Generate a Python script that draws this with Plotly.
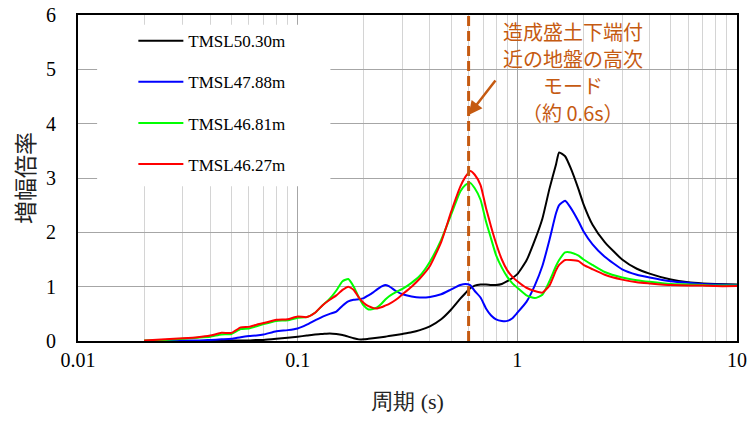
import math
import plotly.graph_objects as go

periods = [0.02, 0.025, 0.03, 0.035, 0.04, 0.045, 0.05, 0.055, 0.06, 0.065, 0.07, 0.08, 0.09,
           0.1, 0.11, 0.12, 0.13, 0.14, 0.15, 0.16, 0.17, 0.18, 0.19, 0.2, 0.21, 0.22, 0.23,
           0.24, 0.25, 0.26, 0.28, 0.3, 0.33, 0.36, 0.4, 0.45, 0.5, 0.55, 0.58, 0.61, 0.64,
           0.68, 0.72, 0.76, 0.8, 0.85, 0.9, 0.95, 1.0, 1.1, 1.2, 1.3, 1.4, 1.5, 1.55, 1.65,
           1.75, 1.9, 2.0, 2.2, 2.5, 3.0, 3.5, 4.0, 5.0, 6.0, 7.0, 8.0, 10.0]

tmsl_5030 = [0.0, 0.0, 0.0, 0.0, 0.0, 0.0, 0.01, 0.01, 0.01, 0.02, 0.02, 0.04, 0.06,
             0.08, 0.1, 0.12, 0.13, 0.14, 0.13, 0.11, 0.08, 0.05, 0.03, 0.03, 0.04, 0.05, 0.06,
             0.07, 0.08, 0.09, 0.11, 0.13, 0.16, 0.2, 0.27, 0.4, 0.58, 0.78, 0.88, 0.97, 1.02,
             1.04, 1.04, 1.03, 1.03, 1.05, 1.1, 1.16, 1.23, 1.48, 1.85, 2.25, 2.8, 3.25, 3.47, 3.4,
             3.18, 2.79, 2.52, 2.14, 1.82, 1.5, 1.33, 1.24, 1.13, 1.08, 1.06, 1.05, 1.04]

tmsl_4788 = [0.0, 0.0, 0.01, 0.01, 0.02, 0.03, 0.04, 0.07, 0.09, 0.1, 0.12, 0.18, 0.2,
             0.23, 0.3, 0.38, 0.45, 0.5, 0.54, 0.65, 0.73, 0.76, 0.77, 0.79, 0.84, 0.89, 0.95,
             1.0, 1.03, 1.01, 0.92, 0.86, 0.82, 0.8, 0.81, 0.86, 0.95, 1.03, 1.05, 1.03, 0.92,
             0.8, 0.6, 0.47, 0.4, 0.37, 0.37, 0.42, 0.52, 0.72, 1.02, 1.38, 1.86, 2.35, 2.5, 2.58,
             2.45, 2.2, 2.02, 1.78, 1.55, 1.32, 1.22, 1.17, 1.1, 1.07, 1.05, 1.04, 1.03]

tmsl_4681 = [0.01, 0.02, 0.04, 0.06, 0.08, 0.12, 0.13, 0.22, 0.23, 0.27, 0.31, 0.37, 0.38,
             0.43, 0.44, 0.52, 0.66, 0.78, 0.93, 1.1, 1.14, 1.0, 0.8, 0.65, 0.58, 0.59, 0.62,
             0.68, 0.76, 0.82, 0.9, 0.96, 1.07, 1.2, 1.46, 1.86, 2.33, 2.75, 2.87, 2.91, 2.81,
             2.6, 2.2, 1.88, 1.58, 1.35, 1.18, 1.06, 0.98, 0.84, 0.79, 0.85, 1.1, 1.38, 1.49, 1.63,
             1.63, 1.57, 1.5, 1.4, 1.27, 1.17, 1.12, 1.09, 1.05, 1.04, 1.03, 1.02, 1.02]

tmsl_4627 = [0.01, 0.03, 0.05, 0.07, 0.1, 0.15, 0.15, 0.25, 0.26, 0.3, 0.33, 0.39, 0.4,
             0.45, 0.44, 0.52, 0.66, 0.76, 0.84, 0.94, 1.0, 0.94, 0.8, 0.7, 0.64, 0.61, 0.6,
             0.62, 0.65, 0.68, 0.76, 0.86, 1.0, 1.15, 1.38, 1.82, 2.38, 2.84, 3.02, 3.13, 3.06,
             2.87, 2.45, 2.1, 1.8, 1.5, 1.3, 1.18, 1.1, 0.98, 0.92, 0.89, 1.02, 1.3, 1.4, 1.49,
             1.49, 1.47, 1.4, 1.32, 1.22, 1.13, 1.08, 1.06, 1.03, 1.02, 1.02, 1.01, 1.01]

series_names = ["TMSL50.30m", "TMSL47.88m", "TMSL46.81m", "TMSL46.27m"]
series_values = [tmsl_5030, tmsl_4788, tmsl_4681, tmsl_4627]
series_colors = ["#000000", "#0000FF", "#00FF00", "#FF0000"]

x_tick_vals = [0.01, 0.1, 1, 10]
x_tick_text = ["0.01", "0.1", "1", "10"]
minor_vals = [d * m for m in (0.01, 0.1, 1) for d in range(2, 10)]

mode_period = 0.6
note_lines = ["造成盛土下端付", "近の地盤の高次", "モード", "（約 0.6s）"]
note_color = "#C55A11"

fig = go.Figure()
for i, (name, vals, col) in enumerate(zip(series_names, series_values, series_colors)):
    fig.add_trace(go.Scatter(x=periods, y=vals, mode="lines", name=name,
                             line=dict(color=col, width=2, shape="spline", smoothing=0.5),
                             legendgroup=str(i)))

serif = "Liberation Serif, serif"

fig.update_layout(
    template="none",
    width=751, height=421,
    margin=dict(l=78, r=14, t=15, b=80),
    plot_bgcolor="white", paper_bgcolor="white",
    showlegend=True,
    legend=dict(x=0.084, y=0.975, xanchor="left", yanchor="top",
                bgcolor="rgba(0,0,0,0)", font=dict(family=serif, size=17, color="black"),
                traceorder="grouped", tracegroupgap=16, itemwidth=45),
    xaxis=dict(type="log", range=[-2, 1], tickvals=x_tick_vals, ticktext=x_tick_text,
               automargin=False, ticklabeloverflow="allow",
               showgrid=True, gridcolor="#a6a6a6", gridwidth=1,
               minor=dict(tickmode="array", tickvals=minor_vals, showgrid=True,
                          gridcolor="#d4d4d4", gridwidth=1),
               showline=True, linecolor="black", linewidth=2, mirror=True,
               ticks="", tickfont=dict(family=serif, size=20, color="black"),
               title=dict(text="周期 (s)", font=dict(family=serif, size=22, color="#222"), standoff=24)),
    yaxis=dict(range=[0, 6], dtick=1, showgrid=True, gridcolor="#a6a6a6", gridwidth=1,
               automargin=False,
               showline=True, linecolor="black", linewidth=2, mirror=True, zeroline=False,
               ticks="", ticklabelstandoff=16, tickfont=dict(family=serif, size=20, color="black"),
               title=dict(text="増幅倍率", font=dict(family="Noto Sans CJK JP", size=23, color="#222"), standoff=5)),
)

# white legend background box
fig.add_shape(type="rect", xref="paper", yref="paper", x0=0.029, x1=0.383, y0=0.475, y1=0.97,
              fillcolor="white", line=dict(width=0), layer="above")

# dashed marker line at ~0.6 s
fig.add_shape(type="line", xref="x", yref="y", x0=mode_period, x1=mode_period, y0=0, y1=6,
              line=dict(color=note_color, width=3, dash="10px,5px"), layer="above")

line_y = [5.69, 5.195, 4.70, 4.205]
for txt, yy in zip(note_lines, line_y):
    fig.add_annotation(x=0.751, xref="paper", y=yy, yref="y", text=txt, showarrow=False,
                       font=dict(family="Noto Sans CJK JP", size=20, color=note_color),
                       xanchor="center", yanchor="middle")

fig.add_annotation(x=math.log10(mode_period), y=4.16, xref="x", yref="y", text="", showarrow=True,
                   ax=28, ay=-36, arrowhead=2, arrowsize=1.1, arrowwidth=2.5,
                   arrowcolor=note_color, standoff=0)

fig.write_html("out.html", config={"displayModeBar": False},
               post_script="document.body.style.margin='0px';")
